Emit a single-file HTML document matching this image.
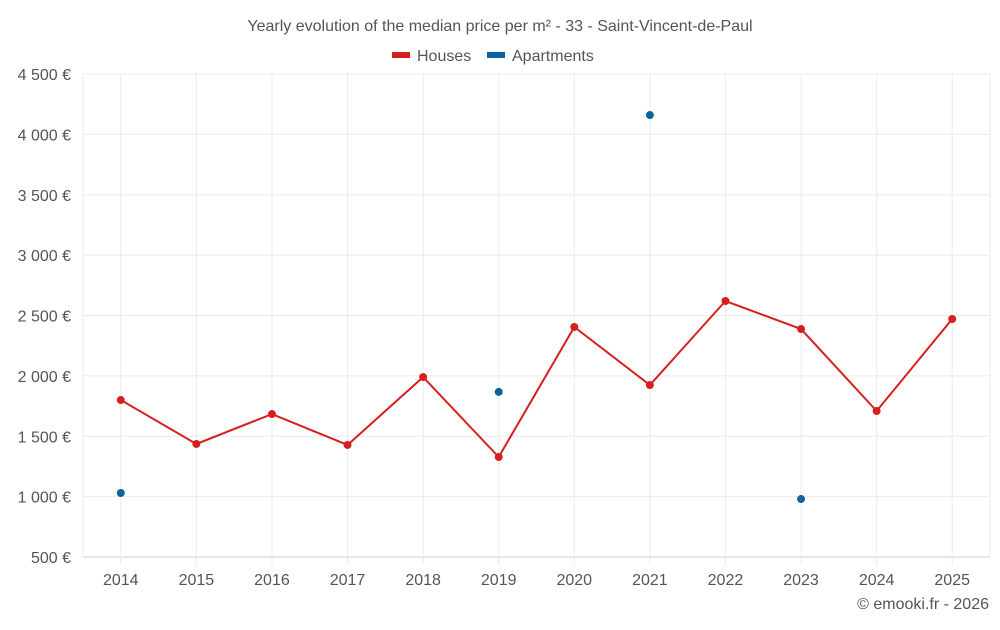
<!DOCTYPE html>
<html><head><meta charset="utf-8"><style>
body{margin:0;background:#fff;font-family:"Liberation Sans",sans-serif}
svg text{font-family:"Liberation Sans",sans-serif;fill:#555}
</style></head><body>
<svg id="chart" width="1000" height="625">
<text x="500" y="31" text-anchor="middle" font-size="16">Yearly evolution of the median price per m² - 33 - Saint-Vincent-de-Paul</text>
<g>
<g><rect x="392" y="52" width="18" height="6" fill="#d62020"/><text x="417" y="61" font-size="16">Houses</text></g>
<g><rect x="487" y="52" width="18" height="6" fill="#0a64a0"/><text x="512" y="61" font-size="16">Apartments</text></g>
</g>
<g id="grid"></g><g id="axes"></g><g id="series"></g>
<text x="989" y="609" text-anchor="end" font-size="16">© emooki.fr - 2026</text>
</svg>
<script>
const categories=["2014","2015","2016","2017","2018","2019","2020","2021","2022","2023","2024","2025"];
const houses=[1800,1436,1684,1428,1990,1328,2405,1924,2620,2388,1709,2471];
const apartments=[1030,null,null,null,null,1867,null,4160,null,980,null,null];
const yTicks=[500,1000,1500,2000,2500,3000,3500,4000,4500];
const yTickLabels=["500 €","1 000 €","1 500 €","2 000 €","2 500 €","3 000 €","3 500 €","4 000 €","4 500 €"];
const NS="http://www.w3.org/2000/svg";
const L=83,R=990,T=74,B=557,yMin=500,yMax=4500;
const bw=(R-L)/categories.length;
const x=i=>L+bw*(i+0.5);
const y=v=>B-(v-yMin)/(yMax-yMin)*(B-T);
function mk(tag,a,parent){const e=document.createElementNS(NS,tag);for(const k in a)e.setAttribute(k,a[k]);document.getElementById(parent).appendChild(e);return e;}
yTicks.forEach((t,i)=>{
 const g=mk("line",{x1:L,x2:R,y1:y(t),y2:y(t),stroke:i==0?"#ccc":"#ebebeb"},"grid");
 
 
 const tx=mk("text",{x:71,y:y(t)+6,"text-anchor":"end","font-size":"16"},"axes");tx.textContent=yTickLabels[i];
 
 
});
[L,R].forEach(px=>{
 const g=mk("line",{x1:px,x2:px,y1:T,y2:B,stroke:"#ebebeb"},"grid");
 
 
});
categories.forEach((c,i)=>{
 const g=mk("line",{x1:x(i),x2:x(i),y1:T,y2:B+8,stroke:"#ebebeb"},"grid");
 
 
 const tx=mk("text",{x:x(i),y:585,"text-anchor":"middle","font-size":"16"},"axes");tx.textContent=c;
 
 
});
const line=mk("polyline",{points:houses.map((v,i)=>x(i)+","+y(v)).join(" "),fill:"none",stroke:"#d62020","stroke-width":2},"series");


houses.forEach((v,i)=>{
 const c=mk("circle",{cx:x(i),cy:y(v),r:4,fill:"#d62020"},"series");
 
 
});
apartments.forEach((v,i)=>{
 if(v==null)return;
 const c=mk("circle",{cx:x(i),cy:y(v),r:4,fill:"#0a64a0"},"series");
 
 
});
</script>
</body></html>
